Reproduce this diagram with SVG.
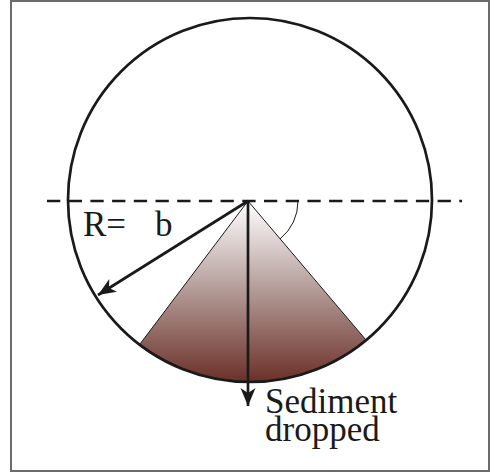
<svg xmlns="http://www.w3.org/2000/svg" width="491" height="473" viewBox="0 0 491 473">
<style>
.ink{stroke:#1a1a1a;fill:none}
.lbl{font-family:"Liberation Serif","Times New Roman",serif;font-size:35px;fill:#1a1a1a}
</style>
<defs>
<linearGradient id="sed" x1="0" y1="201" x2="0" y2="383" gradientUnits="userSpaceOnUse">
<stop offset="0" stop-color="#ffffff"/>
<stop offset="0.45" stop-color="#b9a3a0"/>
<stop offset="1" stop-color="#6a2f26"/>
</linearGradient>
<marker id="ah" viewBox="-18 -8 20 16" refX="0" refY="0" markerWidth="20" markerHeight="16" markerUnits="userSpaceOnUse" orient="auto">
<path d="M0,0 L-18,-7.5 L-13,0 L-18,7.5 Z" fill="#1a1a1a"/>
</marker>
</defs>
<rect x="11" y="1" width="478" height="470" fill="#fff" stroke="#6b6b6b" stroke-width="2"/>
<g id="sediment">
<path d="M248,201 L140,344 A182,182 0 0,0 366,340 Z" fill="url(#sed)" stroke="#1a1a1a" stroke-width="1"/>
</g>
<g id="circle">
<circle cx="250" cy="200" r="182" class="ink" stroke-width="2.7"/>
</g>
<g id="connectors">
<line x1="47" y1="201" x2="462" y2="201" class="ink" stroke-width="2.7" stroke-dasharray="13.3 8.4"/>
<path d="M298,201 A50,50 0 0,1 280,239" class="ink" stroke-width="1"/>
<line x1="248" y1="201" x2="98" y2="295" class="ink" stroke-width="2.7" marker-end="url(#ah)"/>
<line x1="248" y1="201" x2="248" y2="406" class="ink" stroke-width="2.7" marker-end="url(#ah)"/>
</g>
<g id="label-r">
<text class="lbl" x="83" y="236">R=<tspan x="155">b</tspan></text>
</g>
<g id="label-sediment">
<text class="lbl" x="265" y="413">Sediment<tspan x="265" y="441">dropped</tspan></text>
</g>
</svg>
